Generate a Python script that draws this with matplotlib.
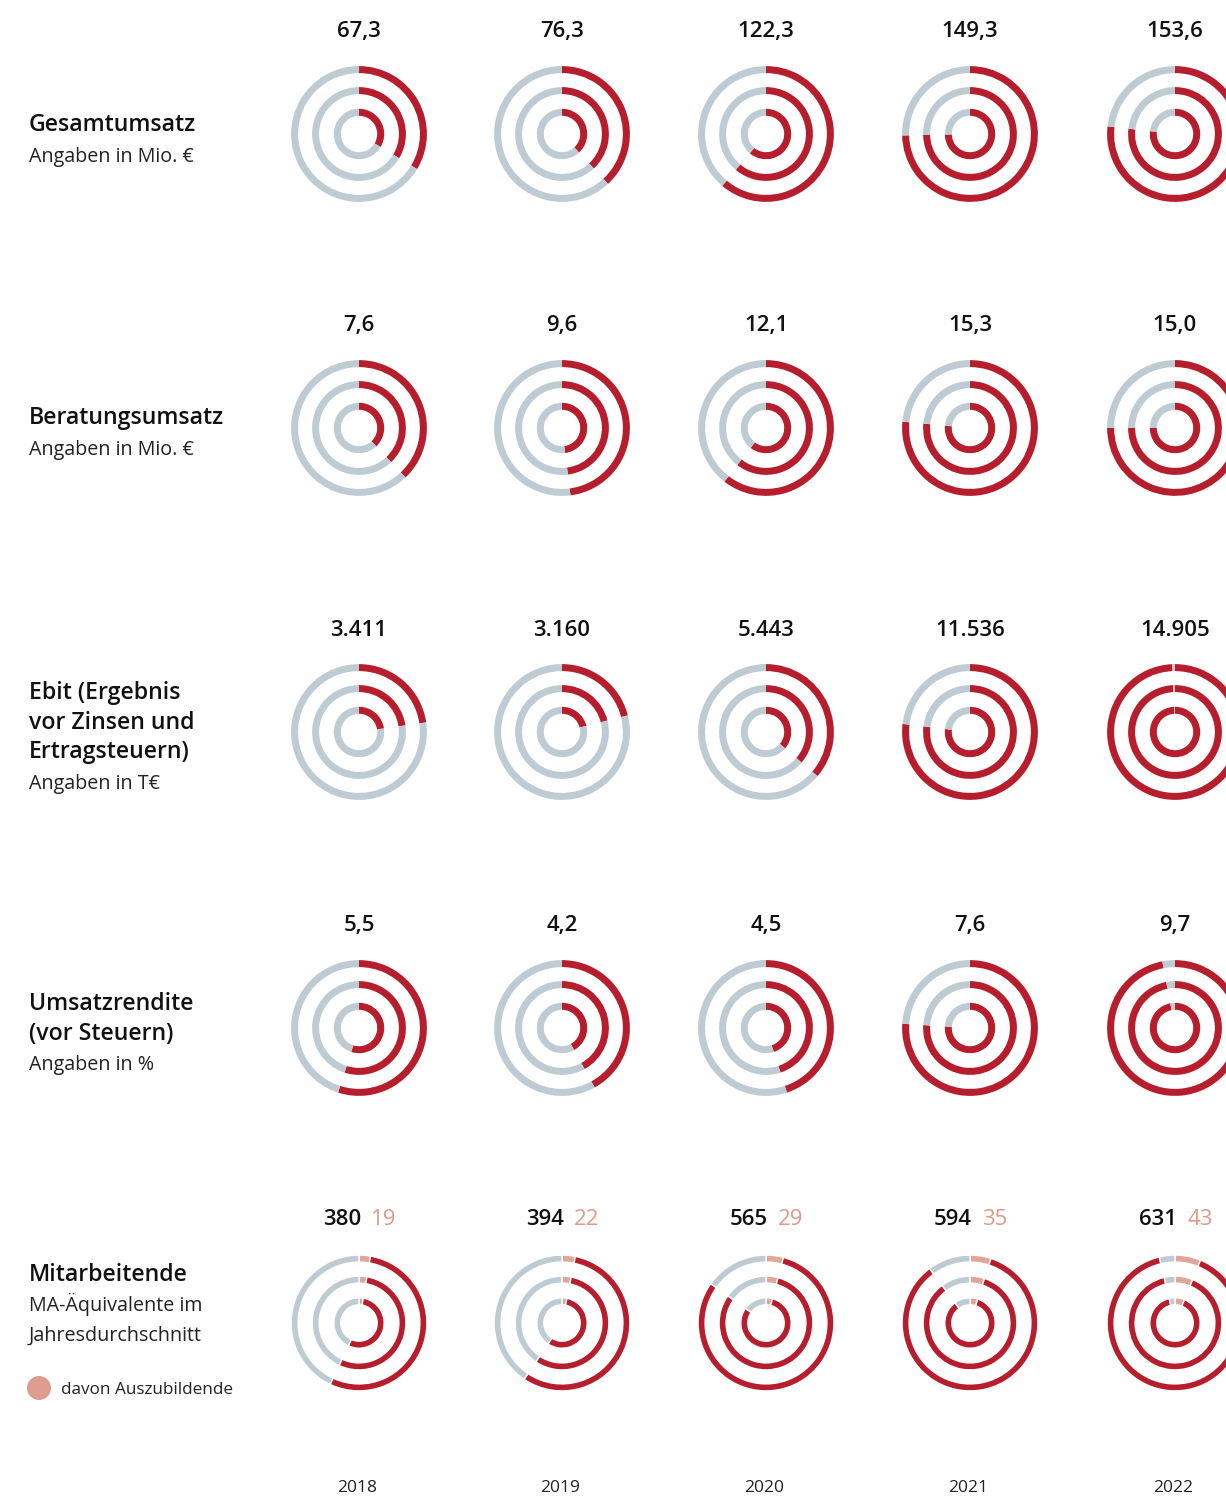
import matplotlib
matplotlib.use("Agg")
import matplotlib.pyplot as plt

# ---- data ----
years = ["2018", "2019", "2020", "2021", "2022"]

gesamtumsatz = [67.3, 76.3, 122.3, 149.3, 153.6]        # Mio. €
beratungsumsatz = [7.6, 9.6, 12.1, 15.3, 15.0]         # Mio. €
ebit = [3411, 3160, 5443, 11536, 14905]                # T€
umsatzrendite = [5.5, 4.2, 4.5, 7.6, 9.7]              # %
mitarbeitende = [380, 394, 565, 594, 631]
auszubildende = [19, 22, 29, 35, 43]

# full circle corresponds to these values
scale_max = [200, 20, 15000, 10, 700]

titles = ["Gesamtumsatz", "Beratungsumsatz",
          "Ebit (Ergebnis\nvor Zinsen und\nErtragsteuern)",
          "Umsatzrendite\n(vor Steuern)", "Mitarbeitende"]
subtitles = ["Angaben in Mio. €", "Angaben in Mio. €", "Angaben in T€",
             "Angaben in %", "MA-Äquivalente im\nJahresdurchschnitt"]
legend_label = "davon Auszubildende"

# ---- style ----
RED = "#b71e2d"
GREY = "#becbd3"
PINK = "#e0a697"
PINK_TXT = "#dd9a8a"
FONT = ["Open Sans", "DejaVu Sans"]
plt.rcParams["font.family"] = FONT

W, H = 1226, 1496
fig = plt.figure(figsize=(W / 100, H / 100), dpi=100)
bg = fig.add_axes([0, 0, 1, 1])
bg.set_xlim(0, W)
bg.set_ylim(H, 0)
bg.axis("off")

col_x = [359, 562, 766, 970, 1175]
row_y = [134, 428, 732, 1028, 1323]
value_base = [37, 331, 636, 931, 1225]
title_base = [131, 424, 699, 1010, 1281]
LINE = 29.5
HALF = 70
radii = [0.97, 0.67, 0.36]
ring_w = 0.1


def fmt(v):
    if isinstance(v, int):
        return f"{v:,}".replace(",", ".")
    return f"{v:.1f}".replace(".", ",")


def rings(ax, parts, colors, edge):
    for r in radii:
        ax.pie(parts, radius=r, startangle=90, counterclock=False, colors=colors,
               wedgeprops=dict(width=ring_w, edgecolor="white" if edge else "none",
                               linewidth=1.0 if edge else 0))
    ax.set_xlim(-1, 1)
    ax.set_ylim(-1, 1)
    ax.set_aspect("equal")
    ax.axis("off")


series = [gesamtumsatz, beratungsumsatz, ebit, umsatzrendite, mitarbeitende]

for i, vals in enumerate(series):
    for j, v in enumerate(vals):
        cx, cy = col_x[j], row_y[i]
        ax = fig.add_axes([(cx - HALF) / W, (H - cy - HALF) / H, 2 * HALF / W, 2 * HALF / H])
        if i == 4:
            a = auszubildende[j]
            rings(ax, [a, v, scale_max[i] - v - a], [PINK, RED, GREY], True)
            bg.text(cx + 2, value_base[i], fmt(v), ha="right", va="baseline",
                    fontsize=16, fontweight="semibold", color="#111111")
            bg.text(cx + 12, value_base[i], fmt(a), ha="left", va="baseline",
                    fontsize=16, color=PINK_TXT)
        else:
            rings(ax, [v, scale_max[i] - v], [RED, GREY], False)
            bg.text(cx, value_base[i], fmt(v), ha="center", va="baseline",
                    fontsize=16, fontweight="semibold", color="#111111")

    # row labels
    y = title_base[i]
    for line in titles[i].split("\n"):
        bg.text(29, y, line, ha="left", va="baseline", fontsize=16.7,
                fontweight="semibold", color="#111111")
        y += LINE
    y += 1
    for line in subtitles[i].split("\n"):
        bg.text(29, y, line, ha="left", va="baseline", fontsize=14.2, color="#222222")
        y += LINE

# legend
bg.scatter([39], [1388], s=300, color="#dd9c8f", edgecolor="none")
bg.text(61, 1394, legend_label, ha="left", va="baseline", fontsize=12.3, color="#222222")

for j, yr in enumerate(years):
    bg.text(col_x[j] - 2, 1492, yr, ha="center", va="baseline", fontsize=12.5,
            color="#222222")

fig.savefig("out.png", dpi=100, facecolor="white")
